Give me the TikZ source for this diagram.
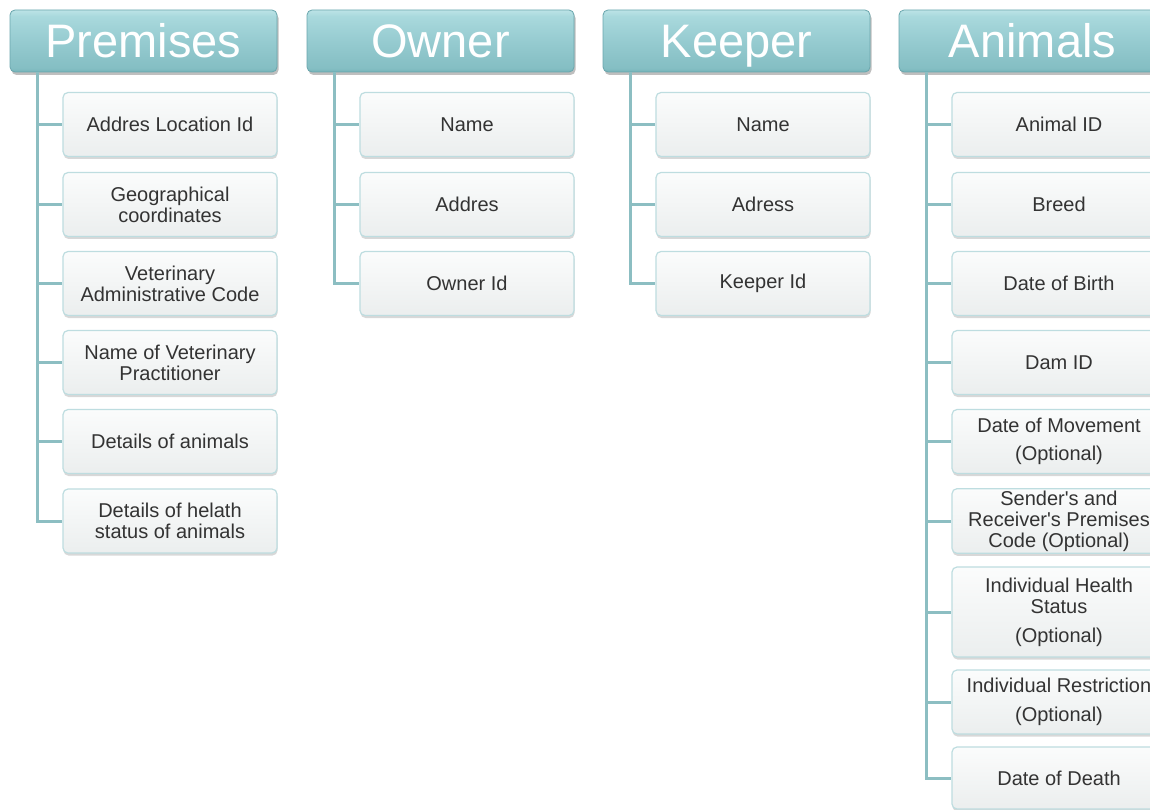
\documentclass[tikz,border=0pt]{standalone}
\usepackage{fontspec}
\setmainfont{Liberation Sans}
\usetikzlibrary{shadows}
\definecolor{hdrtop}{HTML}{C4E7EA}
\definecolor{hdrhi}{HTML}{A9D9DD}
\definecolor{hdrmid}{HTML}{96CBD0}
\definecolor{hdrlow}{HTML}{84BEC3}
\definecolor{hdrbot}{HTML}{66A7AE}
\definecolor{hdrline}{HTML}{6AA6AD}
\definecolor{boxline}{HTML}{BEDDE0}
\definecolor{boxtop}{HTML}{FBFCFC}
\definecolor{boxbot}{HTML}{EBEEEE}
\definecolor{trunkc}{HTML}{8CBEC2}
\definecolor{txt}{HTML}{333333}
\pgfdeclareverticalshading{hdrshade}{100bp}{color(0bp)=(hdrbot); color(22bp)=(hdrbot); color(28bp)=(hdrlow); color(50bp)=(hdrmid); color(70bp)=(hdrhi); color(77bp)=(hdrtop); color(100bp)=(hdrtop)}
\tikzset{
 hdr/.style={draw=hdrline, line width=0.8pt, rounded corners=5pt, shading=hdrshade,
   minimum width=267pt, minimum height=62pt, inner sep=0pt, text=white,
   font=\fontsize{47}{50}\selectfont, text height=33.5pt, text depth=0pt,
   drop shadow={shadow xshift=1.5pt, shadow yshift=-3pt, opacity=0.5}},
 item/.style={draw=boxline, line width=1.2pt, rounded corners=5pt, top color=boxtop, bottom color=boxbot,
   minimum width=214pt, minimum height=64pt, inner sep=2pt, align=center, text=txt,
   font=\fontsize{20}{21}\selectfont,
   drop shadow={shadow xshift=0.5pt, shadow yshift=-2.5pt, opacity=0.3}},
 link/.style={draw=trunkc, line width=3pt}
}
\begin{document}
\begin{tikzpicture}[x=1pt,y=-1pt]
\useasboundingbox (0,0) rectangle (1150,810);
\fill[white] (0,0) rectangle (1150,810);
\clip (0,0) rectangle (1150,810);
% headers
\node[hdr] (h1) at (143.5,41) {Premises};
\node[hdr] (h2) at (440.5,41) {Owner};
\node[hdr] (h3) at (736.5,41) {Keeper};
\node[hdr] (h4) at (1032.5,41) {Animals};
\coordinate (t1) at (37,72);
\coordinate (t2) at (334,72);
\coordinate (t3) at (630,72);
\coordinate (t4) at (926,72);
% Premises
\node[item] (p1) at (170,124.5) {Addres Location Id};
\node[item] (p2) at (170,204.5) {Geographical\\coordinates};
\node[item] (p3) at (170,283.5) {Veterinary\\Administrative Code};
\node[item] (p4) at (170,362.5) {Name of Veterinary\\Practitioner};
\node[item] (p5) at (170,441.5) {Details of animals};
\node[item] (p6) at (170,521) {Details of helath\\status of animals};
% Owner
\node[item] (o1) at (467,124.5) {Name};
\node[item] (o2) at (467,204.5) {Addres};
\node[item] (o3) at (467,283.5) {Owner Id};
% Keeper
\node[item] (k1) at (763,124.5) {Name};
\node[item] (k2) at (763,204.5) {Adress};
\node[item] (k3) at (763,283.5) {Keeper Id};
% Animals
\node[item] (a1) at (1059,124.5) {Animal ID};
\node[item] (a2) at (1059,204.5) {Breed};
\node[item] (a3) at (1059,283.5) {Date of Birth};
\node[item] (a4) at (1059,362.5) {Dam ID};
\node[item] (a5) at (1059,441.5) {Date of Movement\\[7pt](Optional)};
\node[item] (a6) at (1059,521) {Sender\textquotesingle s and\\Receiver\textquotesingle s Premises\\Code (Optional)};
\node[item, minimum height=90pt] (a7) at (1059,612) {Individual Health\\Status\\[8pt](Optional)};
\node[item] (a8) at (1059,702) {Individual Restriction\\[8pt](Optional)};
\node[item, minimum height=62pt] (a9) at (1059,778) {Date of Death};
% connectors
\draw[link] (t1) |- (p6.west);
\foreach \c in {p1,p2,p3,p4,p5} \draw[link] (t1 |- \c.west) -- (\c.west);
\draw[link] (t2) |- (o3.west);
\foreach \c in {o1,o2} \draw[link] (t2 |- \c.west) -- (\c.west);
\draw[link] (t3) |- (k3.west);
\foreach \c in {k1,k2} \draw[link] (t3 |- \c.west) -- (\c.west);
\draw[link] (t4) |- (a9.west);
\foreach \c in {a1,a2,a3,a4,a5,a6,a7,a8} \draw[link] (t4 |- \c.west) -- (\c.west);
\end{tikzpicture}
\end{document}
